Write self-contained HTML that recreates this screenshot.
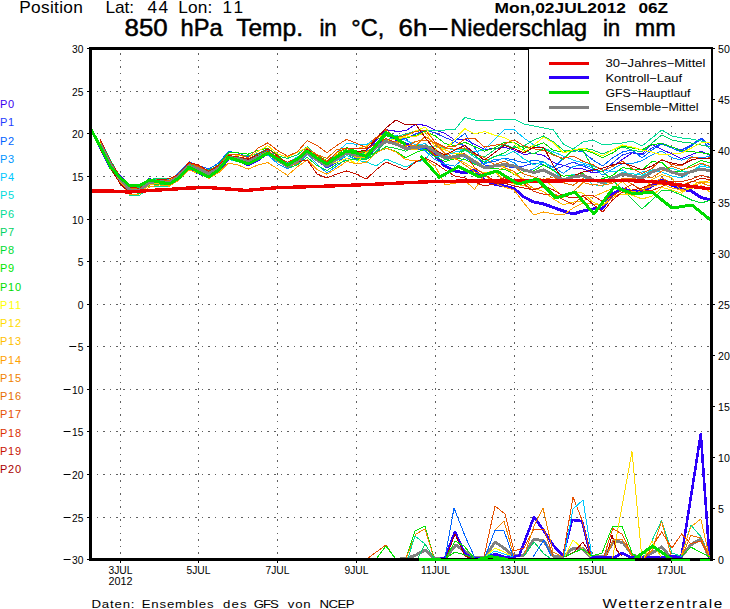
<!DOCTYPE html>
<html><head><meta charset="utf-8"><title>850 hPa Temp. Ensemble</title>
<style>
html,body{margin:0;padding:0;background:#fff;}
body{width:730px;height:609px;overflow:hidden;font-family:"Liberation Sans",sans-serif;}
svg text{font-family:"Liberation Sans",sans-serif;}
</style></head><body>
<svg width="730" height="609" viewBox="0 0 730 609" style="display:block">
<rect x="0" y="0" width="730" height="609" fill="#fff"/>
<g stroke="#606060" stroke-width="1" stroke-dasharray="1.5 5.065" shape-rendering="crispEdges">
<line x1="96.8" y1="91.5" x2="710" y2="91.5"/>
<line x1="96.8" y1="133.5" x2="710" y2="133.5"/>
<line x1="96.8" y1="176.5" x2="710" y2="176.5"/>
<line x1="96.8" y1="219.5" x2="710" y2="219.5"/>
<line x1="96.8" y1="261.5" x2="710" y2="261.5"/>
<line x1="96.8" y1="304.5" x2="710" y2="304.5"/>
<line x1="96.8" y1="346.5" x2="710" y2="346.5"/>
<line x1="96.8" y1="389.5" x2="710" y2="389.5"/>
<line x1="96.8" y1="431.5" x2="710" y2="431.5"/>
<line x1="96.8" y1="474.5" x2="710" y2="474.5"/>
<line x1="96.8" y1="517.5" x2="710" y2="517.5"/>
<line x1="120.5" y1="53.3" x2="120.5" y2="558" stroke-dasharray="1.5 5.065"/>
<line x1="198.5" y1="53.3" x2="198.5" y2="558" stroke-dasharray="1.5 5.065"/>
<line x1="277.5" y1="53.3" x2="277.5" y2="558" stroke-dasharray="1.5 5.065"/>
<line x1="356.5" y1="53.3" x2="356.5" y2="558" stroke-dasharray="1.5 5.065"/>
<line x1="435.5" y1="53.3" x2="435.5" y2="558" stroke-dasharray="1.5 5.065"/>
<line x1="514.5" y1="53.3" x2="514.5" y2="558" stroke-dasharray="1.5 5.065"/>
<line x1="592.5" y1="53.3" x2="592.5" y2="558" stroke-dasharray="1.5 5.065"/>
<line x1="671.5" y1="53.3" x2="671.5" y2="558" stroke-dasharray="1.5 5.065"/>
</g>
<g shape-rendering="crispEdges" stroke-linejoin="round" stroke-linecap="butt">
<polyline points="400.0,558.0 408.0,558.0 416.0,555.0 425.0,550.0 434.0,558.0 445.0,558.0 456.0,545.0 466.0,552.0 474.0,558.0 485.0,557.0 495.0,542.0 504.0,548.0 513.0,556.0 524.0,555.0 534.0,539.0 544.0,541.0 553.0,556.0 564.0,556.0 572.0,549.0 582.0,548.0 591.0,557.0 604.5,556.5 613.8,541.0 623.0,542.5 632.5,555.0 641.8,557.6 652.0,553.0 661.6,547.0 671.0,557.6 681.5,556.5 690.8,544.8 700.8,539.0 709.5,557.6" fill="none" stroke="#808080" stroke-width="3" />
<polyline points="90.5,128.0 100.3,147.5 110.2,167.5 120.0,177.0 129.9,187.0 139.8,186.5 149.6,179.5 159.4,183.0 169.3,185.0 179.1,177.5 189.0,168.0 198.8,173.0 208.7,176.5 218.5,171.0 228.4,158.5 238.2,160.0 248.1,165.0 257.9,160.0 267.8,152.5 277.6,160.0 287.5,166.0 297.4,158.5 307.2,152.0 317.0,159.0 326.9,163.5 336.8,158.0 346.6,152.0 356.4,152.5 366.3,157.5 376.1,146.0 386.0,134.0 395.8,139.0 405.7,144.0 415.6,147.5 425.4,147.0 435.2,156.0 445.1,166.0 454.9,171.0 464.8,173.0 474.6,170.0 484.5,180.0 494.3,184.0 504.2,186.0 514.0,188.5 523.9,197.0 533.8,202.0 543.6,204.0 553.5,207.5 563.3,211.0 573.1,214.0 583.0,211.0 592.8,209.0 602.7,208.0 612.5,194.0 622.4,189.0 632.2,191.5 642.1,192.0 651.9,186.0 661.8,180.0 671.6,185.0 681.5,189.0 691.4,191.0 701.2,197.5 711.0,200.0" fill="none" stroke="#2d00fa" stroke-width="3" />
<polyline points="440.0,558.5 445.0,558.0 455.0,532.0 465.0,554.0 472.0,558.0 485.0,558.0 495.0,554.0 504.0,557.0 519.0,556.0 534.0,517.0 544.0,531.0 553.0,545.0 563.0,556.0 572.0,520.0 582.0,521.0 591.0,557.0 614.0,557.6 622.0,553.0 631.0,557.6 681.5,556.5 700.8,434.0 709.5,557.6" fill="none" stroke="#2d00fa" stroke-width="2.6" />
<polyline points="100.3,143.7 110.2,164.4 120.0,179.6 129.9,189.8 139.8,189.6 149.6,182.9 159.4,181.6 169.3,183.6 179.1,177.0 189.0,166.6 198.8,170.3 208.7,174.6 218.5,169.5 228.4,158.8 238.2,158.8 248.1,161.7 257.9,157.2 267.8,154.4 277.6,159.8 287.5,164.3 297.4,159.1 307.2,149.4 317.0,154.5 326.9,162.3 336.8,155.8 346.6,150.3 356.4,151.6 366.3,151.1 376.1,140.5 386.0,129.7 395.8,131.2 405.7,130.9 415.6,124.3 425.4,125.3 435.2,130.1 445.1,133.5 454.9,140.1 464.8,139.1 474.6,144.5 484.5,149.3 494.3,148.7 504.2,147.3 514.0,149.9 523.9,154.5 533.8,153.3 543.6,155.3 553.5,162.6 563.3,165.3 573.1,168.1 583.0,168.9 592.8,173.0 602.7,171.3 612.5,166.3 622.4,159.5 632.2,152.9 642.1,153.8 651.9,144.5 661.8,149.4 671.6,153.8 681.5,158.7 691.4,154.7 701.2,151.3 711.0,156.1" fill="none" stroke="#3c00f0" stroke-width="1" />
<polyline points="100.3,140.9 110.2,161.4 120.0,178.4 129.9,190.2 139.8,189.5 149.6,182.7 159.4,181.2 169.3,182.0 179.1,176.1 189.0,166.4 198.8,169.3 208.7,173.4 218.5,169.9 228.4,158.9 238.2,159.9 248.1,160.0 257.9,156.3 267.8,153.2 277.6,161.7 287.5,164.7 297.4,159.1 307.2,151.3 317.0,160.8 326.9,168.0 336.8,162.6 346.6,155.6 356.4,159.1 366.3,159.4 376.1,153.4 386.0,140.0 395.8,142.0 405.7,138.0 415.6,134.0 425.4,130.0 435.2,133.0 445.1,137.5 454.9,141.5 464.8,146.0 474.6,155.0 484.5,165.0 494.3,166.0 504.2,166.0 514.0,168.0 523.9,166.0 533.8,163.0 543.6,165.0 553.5,170.0 563.3,166.0 573.1,162.0 583.0,166.0 592.8,170.0 602.7,172.0 612.5,163.0 622.4,155.0 632.2,152.0 642.1,155.0 651.9,148.0 661.8,143.0 671.6,147.0 681.5,150.0 691.4,145.0 701.2,138.0 711.0,146.0" fill="none" stroke="#1e3cff" stroke-width="1" />
<polyline points="100.3,143.5 110.2,163.4 120.0,178.4 129.9,188.1 139.8,187.5 149.6,180.0 159.4,178.8 169.3,180.7 179.1,172.6 189.0,161.8 198.8,165.5 208.7,169.1 218.5,163.1 228.4,151.5 238.2,153.0 248.1,156.8 257.9,153.4 267.8,150.5 277.6,158.4 287.5,164.2 297.4,158.8 307.2,148.4 317.0,156.7 326.9,161.6 336.8,158.6 346.6,153.0 356.4,156.9 366.3,150.3 376.1,142.8 386.0,134.2 395.8,135.4 405.7,138.1 415.6,150.0 425.4,148.0 435.2,146.0 445.1,149.5 454.9,141.0 464.8,133.5 474.6,148.0 484.5,163.0 494.3,161.5 504.2,158.0 514.0,160.0 523.9,163.0 533.8,160.0 543.6,162.0 553.5,168.0 563.3,158.0 573.1,150.0 583.0,152.0 592.8,160.0 602.7,166.0 612.5,158.0 622.4,152.0 632.2,150.0 642.1,158.0 651.9,150.0 661.8,144.0 671.6,148.0 681.5,152.0 691.4,146.0 701.2,139.0 711.0,150.0" fill="none" stroke="#0064ff" stroke-width="1" />
<polyline points="100.3,144.0 110.2,164.0 120.0,178.7 129.9,189.0 139.8,186.7 149.6,180.7 159.4,178.1 169.3,179.7 179.1,173.5 189.0,164.8 198.8,167.9 208.7,173.7 218.5,167.8 228.4,158.2 238.2,159.1 248.1,162.6 257.9,158.8 267.8,155.0 277.6,163.6 287.5,168.8 297.4,164.5 307.2,154.5 317.0,164.0 326.9,173.0 336.8,166.0 346.6,158.4 356.4,160.0 366.3,156.8 376.1,148.8 386.0,141.3 395.8,143.0 405.7,148.6 415.6,146.0 425.4,151.0 435.2,159.8 445.1,164.3 454.9,166.2 464.8,157.1 474.6,164.1 484.5,163.9 494.3,159.4 504.2,158.8 514.0,162.7 523.9,172.1 533.8,168.7 543.6,162.0 553.5,167.3 563.3,173.3 573.1,166.6 583.0,164.4 592.8,168.2 602.7,175.0 612.5,169.2 622.4,163.6 632.2,163.6 642.1,160.6 651.9,154.9 661.8,151.0 671.6,157.6 681.5,160.2 691.4,156.9 701.2,157.6 711.0,156.5" fill="none" stroke="#0096ff" stroke-width="1" />
<polyline points="100.3,145.9 110.2,164.5 120.0,181.5 129.9,193.0 139.8,191.7 149.6,183.3 159.4,182.6 169.3,183.9 179.1,177.3 189.0,166.9 198.8,168.2 208.7,174.4 218.5,166.9 228.4,155.8 238.2,157.4 248.1,160.8 257.9,155.0 267.8,150.9 277.6,157.2 287.5,163.3 297.4,156.8 307.2,153.4 317.0,157.6 326.9,164.6 336.8,152.5 346.6,143.4 356.4,144.2 366.3,145.0 376.1,137.6 386.0,133.2 395.8,135.6 405.7,140.5 415.6,144.5 425.4,143.8 435.2,156.3 445.1,156.0 454.9,152.0 464.8,150.0 474.6,152.0 484.5,149.5 494.3,140.0 504.2,129.5 514.0,129.5 523.9,138.0 533.8,145.0 543.6,148.0 553.5,152.0 563.3,156.0 573.1,160.0 583.0,163.0 592.8,166.0 602.7,170.0 612.5,172.0 622.4,170.0 632.2,176.0 642.1,172.0 651.9,170.0 661.8,172.0 671.6,176.0 681.5,178.0 691.4,172.0 701.2,166.0 711.0,168.0" fill="none" stroke="#00c8ff" stroke-width="1" />
<polyline points="100.3,144.8 110.2,165.1 120.0,181.5 129.9,192.0 139.8,192.2 149.6,184.2 159.4,182.1 169.3,184.3 179.1,178.2 189.0,166.9 198.8,170.6 208.7,174.0 218.5,168.5 228.4,159.4 238.2,161.7 248.1,162.9 257.9,159.7 267.8,153.7 277.6,161.9 287.5,166.2 297.4,160.1 307.2,151.6 317.0,158.5 326.9,166.3 336.8,160.7 346.6,155.5 356.4,160.0 366.3,162.0 376.1,166.0 386.0,159.0 395.8,163.0 405.7,167.0 415.6,162.0 425.4,160.0 435.2,144.4 445.1,148.2 454.9,149.8 464.8,149.5 474.6,157.5 484.5,161.6 494.3,156.1 504.2,155.7 514.0,151.2 523.9,159.0 533.8,164.7 543.6,161.7 553.5,170.0 563.3,179.9 573.1,174.0 583.0,176.5 592.8,184.5 602.7,186.1 612.5,178.4 622.4,172.3 632.2,173.8 642.1,175.2 651.9,170.1 661.8,168.1 671.6,168.3 681.5,171.5 691.4,172.1 701.2,164.2 711.0,166.8" fill="none" stroke="#00dcdc" stroke-width="1" />
<polyline points="100.3,148.6 110.2,168.0 120.0,183.1 129.9,195.2 139.8,195.3 149.6,186.9 159.4,187.0 169.3,185.9 179.1,178.9 189.0,169.2 198.8,171.0 208.7,174.5 218.5,170.3 228.4,158.4 238.2,160.0 248.1,163.8 257.9,156.3 267.8,153.9 277.6,159.0 287.5,166.0 297.4,160.9 307.2,151.2 317.0,158.7 326.9,164.2 336.8,158.0 346.6,150.0 356.4,156.3 366.3,152.0 376.1,146.0 386.0,140.0 395.8,137.0 405.7,134.0 415.6,131.0 425.4,130.0 435.2,130.0 445.1,130.0 454.9,129.5 464.8,117.5 474.6,120.0 484.5,120.0 494.3,120.0 504.2,119.5 514.0,119.0 523.9,124.0 533.8,126.0 543.6,128.0 553.5,130.0 563.3,144.0 573.1,149.0 583.0,142.0 592.8,140.0 602.7,145.0 612.5,144.0 622.4,143.0 632.2,141.0 642.1,146.0 651.9,138.0 661.8,130.0 671.6,136.0 681.5,138.0 691.4,139.0 701.2,141.0 711.0,143.0" fill="none" stroke="#00dc96" stroke-width="1" />
<polyline points="100.3,139.9 110.2,159.3 120.0,177.5 129.9,187.2 139.8,187.7 149.6,179.5 159.4,178.1 169.3,179.0 179.1,173.9 189.0,163.4 198.8,168.2 208.7,172.1 218.5,165.7 228.4,153.9 238.2,155.6 248.1,156.0 257.9,153.8 267.8,148.6 277.6,156.0 287.5,158.4 297.4,154.8 307.2,146.7 317.0,155.5 326.9,165.5 336.8,158.3 346.6,153.8 356.4,158.0 366.3,158.5 376.1,151.3 386.0,142.0 395.8,144.3 405.7,149.9 415.6,145.1 425.4,145.3 435.2,148.5 445.1,159.9 454.9,157.7 464.8,150.0 474.6,154.0 484.5,157.0 494.3,150.0 504.2,144.5 514.0,148.0 523.9,146.0 533.8,140.0 543.6,136.0 553.5,142.0 563.3,150.0 573.1,152.0 583.0,148.0 592.8,150.0 602.7,154.0 612.5,150.0 622.4,147.0 632.2,150.0 642.1,152.0 651.9,143.0 661.8,135.0 671.6,140.0 681.5,142.0 691.4,143.0 701.2,145.0 711.0,147.0" fill="none" stroke="#00d264" stroke-width="1" />
<polyline points="100.3,148.2 110.2,167.8 120.0,182.5 129.9,192.6 139.8,193.2 149.6,185.0 159.4,184.2 169.3,185.4 179.1,179.2 189.0,169.0 198.8,171.1 208.7,175.5 218.5,168.2 228.4,158.1 238.2,160.5 248.1,162.8 257.9,159.0 267.8,152.3 277.6,159.1 287.5,168.0 297.4,164.8 307.2,157.2 317.0,165.7 326.9,170.5 336.8,164.2 346.6,160.2 356.4,159.4 366.3,159.6 376.1,153.4 386.0,146.7 395.8,148.3 405.7,151.2 415.6,145.6 425.4,145.9 435.2,148.9 445.1,156.6 454.9,155.9 464.8,148.8 474.6,155.5 484.5,162.3 494.3,156.6 504.2,153.0 514.0,146.5 523.9,149.9 533.8,154.0 543.6,148.3 553.5,154.2 563.3,159.5 573.1,149.1 583.0,150.6 592.8,168.0 602.7,172.0 612.5,180.0 622.4,190.0 632.2,199.0 642.1,209.0 651.9,200.0 661.8,190.0 671.6,191.0 681.5,195.0 691.4,200.0 701.2,203.0 711.0,200.0" fill="none" stroke="#00dc32" stroke-width="1" />
<polyline points="100.3,140.8 110.2,160.8 120.0,178.3 129.9,188.5 139.8,188.7 149.6,181.6 159.4,179.1 169.3,180.9 179.1,175.0 189.0,166.5 198.8,167.2 208.7,170.2 218.5,165.0 228.4,152.5 238.2,152.9 248.1,154.2 257.9,150.4 267.8,148.3 277.6,154.9 287.5,164.6 297.4,158.1 307.2,150.3 317.0,155.7 326.9,160.5 336.8,156.9 346.6,148.8 356.4,150.9 366.3,156.2 376.1,152.5 386.0,148.5 395.8,151.2 405.7,157.7 415.6,152.6 425.4,149.2 435.2,156.5 445.1,161.6 454.9,158.6 464.8,159.3 474.6,164.2 484.5,167.6 494.3,168.8 504.2,169.2 514.0,174.2 523.9,171.9 533.8,170.9 543.6,164.9 553.5,170.6 563.3,176.1 573.1,175.5 583.0,173.0 592.8,182.1 602.7,178.6 612.5,175.5 622.4,167.6 632.2,169.3 642.1,169.8 651.9,161.6 661.8,162.5 671.6,171.8 681.5,171.0 691.4,165.3 701.2,160.4 711.0,163.1" fill="none" stroke="#00e600" stroke-width="1" />
<polyline points="100.3,148.2 110.2,168.8 120.0,181.5 129.9,192.1 139.8,191.6 149.6,183.0 159.4,182.1 169.3,183.5 179.1,176.6 189.0,166.8 198.8,169.4 208.7,173.1 218.5,166.7 228.4,156.1 238.2,156.9 248.1,159.1 257.9,155.4 267.8,150.8 277.6,158.2 287.5,167.1 297.4,160.0 307.2,152.9 317.0,157.0 326.9,162.1 336.8,154.7 346.6,147.7 356.4,150.9 366.3,152.6 376.1,145.0 386.0,135.9 395.8,136.6 405.7,138.0 415.6,135.5 425.4,131.1 435.2,135.9 445.1,143.6 454.9,145.7 464.8,142.3 474.6,146.6 484.5,151.2 494.3,148.2 504.2,142.3 514.0,142.3 523.9,148.2 533.8,146.3 543.6,142.9 553.5,150.4 563.3,152.1 573.1,149.9 583.0,149.9 592.8,152.7 602.7,157.7 612.5,153.0 622.4,146.2 632.2,148.0 642.1,149.8 651.9,144.4 661.8,143.7 671.6,146.7 681.5,150.9 691.4,151.7 701.2,152.6 711.0,154.5" fill="none" stroke="#00dc00" stroke-width="1" />
<polyline points="100.3,142.5 110.2,162.1 120.0,178.9 129.9,189.2 139.8,190.5 149.6,182.0 159.4,182.2 169.3,182.3 179.1,175.7 189.0,167.2 198.8,168.9 208.7,172.5 218.5,167.4 228.4,156.3 238.2,157.3 248.1,160.8 257.9,156.2 267.8,151.3 277.6,160.3 287.5,167.0 297.4,161.0 307.2,150.5 317.0,155.9 326.9,165.1 336.8,162.2 346.6,158.2 356.4,163.7 366.3,152.0 376.1,146.0 386.0,141.0 395.8,139.0 405.7,136.0 415.6,131.0 425.4,127.0 435.2,143.0 445.1,150.0 454.9,139.0 464.8,128.7 474.6,133.7 484.5,131.6 494.3,135.0 504.2,137.5 514.0,143.0 523.9,152.0 533.8,145.0 543.6,137.0 553.5,143.0 563.3,153.0 573.1,150.0 583.0,148.0 592.8,152.0 602.7,156.0 612.5,150.0 622.4,145.0 632.2,147.0 642.1,150.0 651.9,152.0 661.8,155.0 671.6,154.0 681.5,153.0 691.4,148.0 701.2,143.0 711.0,142.0" fill="none" stroke="#ffff00" stroke-width="1" />
<polyline points="100.3,141.5 110.2,162.4 120.0,177.4 129.9,188.2 139.8,188.5 149.6,180.9 159.4,180.6 169.3,180.1 179.1,174.0 189.0,163.0 198.8,166.8 208.7,171.5 218.5,167.7 228.4,154.6 238.2,155.2 248.1,157.5 257.9,151.4 267.8,145.7 277.6,154.0 287.5,157.2 297.4,152.5 307.2,147.4 317.0,156.2 326.9,160.9 336.8,153.3 346.6,148.4 356.4,148.7 366.3,146.1 376.1,139.0 386.0,132.4 395.8,139.3 405.7,137.1 415.6,136.4 425.4,132.4 435.2,146.7 445.1,150.0 454.9,153.9 464.8,153.8 474.6,160.3 484.5,166.3 494.3,166.5 504.2,166.5 514.0,174.2 523.9,179.2 533.8,181.4 543.6,178.8 553.5,187.4 563.3,197.5 573.1,192.1 583.0,193.1 592.8,202.1 602.7,205.7 612.5,195.4 622.4,194.5 632.2,195.1 642.1,199.0 651.9,196.2 661.8,187.5 671.6,190.0 681.5,193.3 691.4,186.1 701.2,181.0 711.0,183.3" fill="none" stroke="#ffdc00" stroke-width="1" />
<polyline points="100.3,145.8 110.2,168.5 120.0,181.1 129.9,192.5 139.8,192.9 149.6,184.7 159.4,183.1 169.3,183.4 179.1,174.6 189.0,165.1 198.8,169.0 208.7,173.1 218.5,166.9 228.4,159.0 238.2,159.6 248.1,162.8 257.9,159.1 267.8,153.8 277.6,161.7 287.5,165.2 297.4,161.7 307.2,153.9 317.0,158.5 326.9,163.9 336.8,157.7 346.6,151.1 356.4,157.7 366.3,157.3 376.1,145.5 386.0,142.2 395.8,142.0 405.7,147.9 415.6,149.9 425.4,146.0 435.2,149.1 445.1,156.2 454.9,158.8 464.8,162.8 474.6,168.9 484.5,173.0 494.3,170.9 504.2,180.8 514.0,184.1 523.9,185.6 533.8,188.3 543.6,191.6 553.5,199.1 563.3,204.8 573.1,202.1 583.0,200.8 592.8,197.0 602.7,192.6 612.5,188.5 622.4,181.5 632.2,191.5 642.1,193.0 651.9,179.7 661.8,174.7 671.6,177.6 681.5,191.3 691.4,188.3 701.2,185.8 711.0,192.9" fill="none" stroke="#ffbe00" stroke-width="1" />
<polyline points="100.3,148.8 110.2,167.3 120.0,182.5 129.9,194.2 139.8,194.0 149.6,186.9 159.4,184.9 169.3,186.1 179.1,180.0 189.0,170.0 198.8,173.6 208.7,178.4 218.5,172.8 228.4,163.2 238.2,165.0 248.1,169.2 257.9,165.0 267.8,162.5 277.6,168.9 287.5,175.4 297.4,166.9 307.2,159.9 317.0,169.6 326.9,174.2 336.8,168.1 346.6,161.5 356.4,163.8 366.3,162.4 376.1,152.9 386.0,148.0 395.8,151.9 405.7,159.6 415.6,160.8 425.4,158.9 435.2,166.2 445.1,184.6 454.9,183.3 464.8,180.6 474.6,189.3 484.5,175.0 494.3,183.0 504.2,187.0 514.0,190.0 523.9,203.0 533.8,215.0 543.6,212.0 553.5,214.0 563.3,215.0 573.1,208.0 583.0,203.0 592.8,204.0 602.7,206.0 612.5,198.0 622.4,192.0 632.2,195.0 642.1,190.0 651.9,186.0 661.8,184.0 671.6,188.0 681.5,190.0 691.4,186.0 701.2,183.0 711.0,180.0" fill="none" stroke="#ffa000" stroke-width="1" />
<polyline points="100.3,140.6 110.2,161.4 120.0,177.1 129.9,188.8 139.8,188.0 149.6,181.7 159.4,179.8 169.3,182.0 179.1,175.7 189.0,165.0 198.8,168.0 208.7,172.9 218.5,167.9 228.4,158.0 238.2,158.5 248.1,160.9 257.9,158.3 267.8,152.7 277.6,159.5 287.5,167.3 297.4,163.3 307.2,153.3 317.0,160.4 326.9,165.5 336.8,154.7 346.6,151.5 356.4,152.9 366.3,154.8 376.1,147.0 386.0,142.1 395.8,141.1 405.7,145.2 415.6,145.7 425.4,136.4 435.2,143.9 445.1,153.4 454.9,157.8 464.8,164.9 474.6,171.8 484.5,175.2 494.3,172.4 504.2,167.6 514.0,171.3 523.9,181.4 533.8,188.5 543.6,187.7 553.5,194.0 563.3,196.6 573.1,192.0 583.0,182.6 592.8,184.9 602.7,185.1 612.5,183.3 622.4,178.7 632.2,184.3 642.1,190.0 651.9,184.2 661.8,177.6 671.6,183.3 681.5,185.6 691.4,181.4 701.2,182.8 711.0,186.4" fill="none" stroke="#f08200" stroke-width="1" />
<polyline points="100.3,144.0 110.2,163.5 120.0,178.5 129.9,188.8 139.8,189.1 149.6,180.7 159.4,179.7 169.3,180.8 179.1,174.4 189.0,163.3 198.8,166.9 208.7,171.3 218.5,167.8 228.4,156.6 238.2,157.1 248.1,159.3 257.9,156.6 267.8,150.9 277.6,157.9 287.5,162.3 297.4,158.4 307.2,148.4 317.0,154.6 326.9,158.5 336.8,149.3 346.6,148.3 356.4,153.6 366.3,151.3 376.1,147.3 386.0,138.4 395.8,143.0 405.7,146.7 415.6,141.4 425.4,140.0 435.2,143.0 445.1,148.1 454.9,149.2 464.8,147.9 474.6,154.6 484.5,157.5 494.3,164.6 504.2,161.2 514.0,166.6 523.9,174.0 533.8,177.0 543.6,179.8 553.5,176.9 563.3,182.7 573.1,185.3 583.0,178.7 592.8,181.2 602.7,182.2 612.5,183.1 622.4,178.3 632.2,178.8 642.1,176.6 651.9,177.5 661.8,171.2 671.6,166.2 681.5,169.5 691.4,167.3 701.2,163.2 711.0,166.6" fill="none" stroke="#e66e00" stroke-width="1" />
<polyline points="100.3,141.0 110.2,161.3 120.0,178.8 129.9,190.3 139.8,189.1 149.6,182.2 159.4,179.8 169.3,181.4 179.1,173.5 189.0,163.2 198.8,166.3 208.7,170.8 218.5,165.4 228.4,154.6 238.2,154.5 248.1,157.7 257.9,147.9 267.8,142.9 277.6,150.5 287.5,156.2 297.4,151.9 307.2,140.5 317.0,145.5 326.9,152.6 336.8,145.5 346.6,139.3 356.4,143.2 366.3,147.7 376.1,137.5 386.0,129.5 395.8,137.8 405.7,135.2 415.6,131.4 425.4,130.2 435.2,142.2 445.1,147.1 454.9,146.6 464.8,139.0 474.6,138.3 484.5,147.1 494.3,145.3 504.2,144.0 514.0,139.9 523.9,146.0 533.8,148.7 543.6,150.5 553.5,155.3 563.3,158.3 573.1,156.0 583.0,161.3 592.8,164.6 602.7,170.5 612.5,166.5 622.4,161.3 632.2,168.6 642.1,173.4 651.9,168.6 661.8,159.5 671.6,164.5 681.5,165.9 691.4,157.1 701.2,158.5 711.0,157.8" fill="none" stroke="#e65000" stroke-width="1" />
<polyline points="100.3,145.1 110.2,165.4 120.0,179.0 129.9,190.4 139.8,191.1 149.6,183.5 159.4,181.5 169.3,182.2 179.1,175.2 189.0,165.9 198.8,169.0 208.7,173.3 218.5,167.8 228.4,156.7 238.2,157.0 248.1,160.9 257.9,156.5 267.8,151.6 277.6,157.0 287.5,162.3 297.4,158.1 307.2,150.5 317.0,155.6 326.9,161.7 336.8,152.1 346.6,148.0 356.4,148.1 366.3,148.6 376.1,143.9 386.0,138.4 395.8,143.1 405.7,149.2 415.6,147.9 425.4,145.9 435.2,155.6 445.1,156.0 454.9,156.1 464.8,153.6 474.6,167.6 484.5,174.7 494.3,180.5 504.2,177.8 514.0,179.8 523.9,183.9 533.8,191.4 543.6,194.2 553.5,194.3 563.3,199.6 573.1,204.6 583.0,195.1 592.8,195.5 602.7,201.5 612.5,195.8 622.4,189.9 632.2,184.1 642.1,191.3 651.9,190.4 661.8,186.6 671.6,181.4 681.5,181.7 691.4,179.2 701.2,175.0 711.0,178.4" fill="none" stroke="#dc3200" stroke-width="1" />
<polyline points="100.3,139.6 110.2,160.9 120.0,176.3 129.9,187.4 139.8,188.3 149.6,180.9 159.4,179.7 169.3,178.8 179.1,173.8 189.0,162.4 198.8,165.1 208.7,171.3 218.5,165.7 228.4,155.3 238.2,157.1 248.1,158.8 257.9,153.9 267.8,148.9 277.6,155.7 287.5,164.5 297.4,162.0 307.2,160.0 317.0,174.0 326.9,178.0 336.8,174.0 346.6,171.0 356.4,174.0 366.3,179.0 376.1,170.0 386.0,162.0 395.8,166.0 405.7,170.0 415.6,162.0 425.4,158.0 435.2,163.0 445.1,170.0 454.9,176.0 464.8,178.0 474.6,182.0 484.5,186.0 494.3,184.0 504.2,183.0 514.0,186.0 523.9,188.0 533.8,190.0 543.6,186.0 553.5,190.0 563.3,196.0 573.1,198.0 583.0,196.0 592.8,204.0 602.7,212.0 612.5,200.0 622.4,192.0 632.2,190.0 642.1,188.0 651.9,184.0 661.8,180.0 671.6,182.0 681.5,186.0 691.4,182.0 701.2,178.0 711.0,180.0" fill="none" stroke="#c81400" stroke-width="1" />
<polyline points="100.3,149.3 110.2,167.5 120.0,183.6 129.9,192.9 139.8,191.1 149.6,183.2 159.4,182.3 169.3,182.9 179.1,177.5 189.0,166.6 198.8,168.8 208.7,172.8 218.5,166.7 228.4,156.0 238.2,158.4 248.1,159.8 257.9,155.5 267.8,153.4 277.6,160.6 287.5,165.4 297.4,159.2 307.2,149.0 317.0,158.0 326.9,165.9 336.8,160.0 346.6,153.0 356.4,152.0 366.3,150.0 376.1,139.0 386.0,128.0 395.8,120.0 405.7,125.0 415.6,124.0 425.4,138.0 435.2,150.0 445.1,155.0 454.9,150.0 464.8,145.5 474.6,153.0 484.5,160.0 494.3,153.0 504.2,145.5 514.0,148.5 523.9,153.0 533.8,147.0 543.6,147.0 553.5,166.0 563.3,180.0 573.1,176.0 583.0,172.0 592.8,170.0 602.7,168.0 612.5,165.0 622.4,163.0 632.2,166.0 642.1,170.0 651.9,166.0 661.8,160.0 671.6,163.0 681.5,165.0 691.4,160.0 701.2,158.0 711.0,158.0" fill="none" stroke="#aa0000" stroke-width="1" />
<polyline points="368.0,558.0 386.0,545.0 395.0,558.0" fill="none" stroke="#e65000" stroke-width="1" />
<polyline points="377.0,558.0 386.0,546.0 395.0,558.0" fill="none" stroke="#00e600" stroke-width="1" />
<polyline points="406.0,558.0 415.0,531.0 425.0,526.0 434.0,558.0" fill="none" stroke="#00e600" stroke-width="1" />
<polyline points="406.0,558.0 416.0,534.0 425.0,529.0 434.0,558.0" fill="none" stroke="#f08200" stroke-width="1" />
<polyline points="408.0,558.0 415.0,536.0 425.0,544.0 434.0,558.0" fill="none" stroke="#00dc96" stroke-width="1" />
<polyline points="418.0,558.0 425.0,544.0 434.0,558.0" fill="none" stroke="#00d264" stroke-width="1" />
<polyline points="445.0,558.0 454.0,508.0 465.0,536.0 475.0,558.0" fill="none" stroke="#0064ff" stroke-width="1" />
<polyline points="446.0,558.0 455.0,534.0 465.0,556.0 470.0,558.0" fill="none" stroke="#aa0000" stroke-width="1" />
<polyline points="446.0,558.0 455.0,541.0 464.0,546.0 474.0,558.0" fill="none" stroke="#00e600" stroke-width="1" />
<polyline points="446.0,558.0 455.0,552.0 465.0,555.0 474.0,558.0" fill="none" stroke="#00dc00" stroke-width="1" />
<polyline points="484.0,557.0 495.0,506.0 505.0,514.0 514.0,551.0 524.0,548.0 534.0,529.0 544.0,529.0 553.0,556.0" fill="none" stroke="#e65000" stroke-width="1" />
<polyline points="485.0,557.0 495.0,530.0 504.0,521.0 514.0,556.0" fill="none" stroke="#f08200" stroke-width="1" />
<polyline points="485.0,557.0 495.0,530.0 504.0,531.0 513.0,556.0" fill="none" stroke="#0064ff" stroke-width="1" />
<polyline points="485.0,557.0 495.0,548.0 504.0,552.0 513.0,557.0" fill="none" stroke="#ffff00" stroke-width="1" />
<polyline points="485.0,557.0 495.0,551.0 504.0,554.0 513.0,557.0" fill="none" stroke="#00c8ff" stroke-width="1" />
<polyline points="524.0,556.0 534.0,526.0 543.0,508.0 553.0,552.0 563.0,557.0" fill="none" stroke="#f08200" stroke-width="1" />
<polyline points="524.0,556.0 534.0,542.0 544.0,554.0 550.0,558.0" fill="none" stroke="#00d264" stroke-width="1" />
<polyline points="533.0,557.0 544.0,540.0 551.0,556.0" fill="none" stroke="#0064ff" stroke-width="1" />
<polyline points="563.0,556.0 573.0,497.0 582.0,520.0 591.0,556.0" fill="none" stroke="#e65000" stroke-width="1" />
<polyline points="564.0,556.0 573.0,509.0 583.0,500.0 592.0,557.0" fill="none" stroke="#00c8ff" stroke-width="1" />
<polyline points="565.0,556.0 573.0,540.0 582.0,548.0 591.0,557.0" fill="none" stroke="#ffff00" stroke-width="1" />
<polyline points="565.0,557.0 574.0,552.0 583.0,542.0 591.0,556.0" fill="none" stroke="#aa0000" stroke-width="1" />
<polyline points="564.0,557.0 582.0,549.0 592.0,556.0 602.0,553.0 612.7,526.0 622.0,526.0 632.5,554.0 640.0,558.0" fill="none" stroke="#00e600" stroke-width="1" />
<polyline points="612.7,557.6 632.0,451.5 641.8,557.6" fill="none" stroke="#ffdc00" stroke-width="1" />
<polyline points="604.0,556.0 612.7,528.5 622.0,534.0 632.5,556.0" fill="none" stroke="#e65000" stroke-width="1" />
<polyline points="607.0,555.0 612.0,535.5 617.0,550.6 622.0,556.0" fill="none" stroke="#aa0000" stroke-width="1" />
<polyline points="606.0,556.0 614.0,539.0 622.0,539.0 632.0,556.0" fill="none" stroke="#f08200" stroke-width="1" />
<polyline points="644.0,557.6 661.6,520.3 672.0,553.0 681.5,556.5 690.8,525.0 700.8,536.6 709.5,557.6" fill="none" stroke="#00dc96" stroke-width="1" />
<polyline points="644.0,558.0 652.0,550.6 661.6,521.5 671.0,555.0" fill="none" stroke="#f08200" stroke-width="1" />
<polyline points="645.0,558.0 661.6,532.0 672.0,548.0 681.5,534.0 690.8,543.6 700.8,541.0 709.5,557.0" fill="none" stroke="#e65000" stroke-width="1" />
<polyline points="644.0,558.0 652.0,541.0 661.0,557.0" fill="none" stroke="#ffdc00" stroke-width="1" />
<polyline points="681.5,555.0 690.8,527.0 700.8,519.0 709.5,557.6" fill="none" stroke="#ffa000" stroke-width="1" />
<polyline points="682.0,556.0 690.8,535.5 700.8,537.8 709.5,557.0" fill="none" stroke="#e66e00" stroke-width="1" />
<polyline points="682.0,556.0 690.8,547.0 700.0,552.0 709.5,557.0" fill="none" stroke="#00e600" stroke-width="1" />
<polyline points="100.3,144.0 110.2,164.0 120.0,179.5 129.9,190.0 139.8,190.0 149.6,182.5 159.4,181.5 169.3,182.5 179.1,176.0 189.0,166.0 198.8,169.0 208.7,173.5 218.5,168.0 228.4,157.5 238.2,158.5 248.1,161.5 257.9,157.0 267.8,153.0 277.6,160.0 287.5,166.5 297.4,161.0 307.2,153.0 317.0,160.0 326.9,166.0 336.8,159.0 346.6,153.0 356.4,155.0 366.3,155.0 376.1,147.5 386.0,141.5 395.8,144.0 405.7,148.5 415.6,147.5 425.4,146.0 435.2,152.0 445.1,158.0 454.9,156.5 464.8,155.5 474.6,161.5 484.5,168.0 494.3,166.0 504.2,164.5 514.0,166.0 523.9,170.0 533.8,172.5 543.6,170.0 553.5,175.0 563.3,180.0 573.1,177.0 583.0,175.5 592.8,179.5 602.7,183.0 612.5,178.0 622.4,174.0 632.2,176.0 642.1,178.0 651.9,172.0 661.8,168.0 671.6,172.0 681.5,175.0 691.4,171.5 701.2,169.0 711.0,171.0" fill="none" stroke="#808080" stroke-width="3" />
<polyline points="90.5,191.0 110.0,191.0 129.0,192.0 150.0,190.5 168.0,189.5 189.0,188.0 208.0,187.5 228.0,189.0 246.0,190.5 262.0,189.0 277.0,187.7 300.0,187.0 330.0,186.0 356.0,185.0 380.0,184.0 410.0,182.5 436.0,181.5 470.0,181.0 506.0,181.0 550.0,181.0 584.0,180.5 620.0,180.5 642.0,181.0 660.0,182.5 680.0,185.0 700.0,187.5 711.5,189.0" fill="none" stroke="#eb0000" stroke-width="3.4" />
<polyline points="90.5,128.5 100.3,146.5 110.2,166.5 120.0,177.5 129.9,186.0 139.8,185.5 149.6,180.0 159.4,182.0 169.3,184.0 179.1,178.0 189.0,167.0 198.8,172.0 208.7,177.0 218.5,170.0 228.4,157.5 238.2,160.5 248.1,164.0 257.9,159.0 267.8,153.0 277.6,159.0 287.5,165.0 297.4,159.0 307.2,151.0 317.0,158.0 326.9,164.0 336.8,157.0 346.6,151.0 356.4,153.0 366.3,156.5 376.1,145.0 386.0,132.5 395.8,138.0 405.7,144.5" fill="none" stroke="#00dc00" stroke-width="3" />
<polyline points="420.7,156.0 439.3,177.3 458.6,166.6 478.6,176.6 497.0,171.0 518.0,184.0 537.0,179.0 556.0,198.0 575.0,192.0 594.0,214.0 614.0,187.0 634.0,194.0 652.0,192.0 672.0,208.0 692.0,205.0 710.5,220.0" fill="none" stroke="#00dc00" stroke-width="3" />
<polyline points="633.7,559.5 652.5,546.0 672.0,559.5" fill="none" stroke="#00dc00" stroke-width="3" />
</g>
<g shape-rendering="crispEdges">
<rect x="90.5" y="48.5" width="621" height="511" fill="none" stroke="#000" stroke-width="3"/>
<rect x="528.5" y="48.5" width="183" height="73" fill="#fff" stroke="#000" stroke-width="1"/>
<line x1="549" y1="63.5" x2="588.5" y2="63.5" stroke="#eb0000" stroke-width="3"/>
<line x1="549" y1="77.5" x2="588.5" y2="77.5" stroke="#2d00fa" stroke-width="3"/>
<line x1="549" y1="92.5" x2="588.5" y2="92.5" stroke="#00dc00" stroke-width="3"/>
<line x1="549" y1="107.5" x2="588.5" y2="107.5" stroke="#808080" stroke-width="3"/>
<rect x="419" y="558" width="22" height="3" fill="#00dc00"/>
<rect x="441" y="559" width="194" height="2" fill="#00dc00"/>
<rect x="671" y="559" width="19" height="2" fill="#00dc00"/>
<rect x="700" y="559" width="10" height="2" fill="#00dc00"/>
<polyline points="478,559.5 490,556.5 508,559.5" fill="none" stroke="#00dc00" stroke-width="3"/>
<line x1="87" y1="48.5" x2="89" y2="48.5" stroke="#000"/>
<line x1="87" y1="91.5" x2="89" y2="91.5" stroke="#000"/>
<line x1="87" y1="133.5" x2="89" y2="133.5" stroke="#000"/>
<line x1="87" y1="176.5" x2="89" y2="176.5" stroke="#000"/>
<line x1="87" y1="219.5" x2="89" y2="219.5" stroke="#000"/>
<line x1="87" y1="261.5" x2="89" y2="261.5" stroke="#000"/>
<line x1="87" y1="304.5" x2="89" y2="304.5" stroke="#000"/>
<line x1="87" y1="346.5" x2="89" y2="346.5" stroke="#000"/>
<line x1="87" y1="389.5" x2="89" y2="389.5" stroke="#000"/>
<line x1="87" y1="431.5" x2="89" y2="431.5" stroke="#000"/>
<line x1="87" y1="474.5" x2="89" y2="474.5" stroke="#000"/>
<line x1="87" y1="517.5" x2="89" y2="517.5" stroke="#000"/>
<line x1="87" y1="559.5" x2="89" y2="559.5" stroke="#000"/>
<line x1="713" y1="48.5" x2="715" y2="48.5" stroke="#000"/>
<line x1="713" y1="99.5" x2="715" y2="99.5" stroke="#000"/>
<line x1="713" y1="150.5" x2="715" y2="150.5" stroke="#000"/>
<line x1="713" y1="202.5" x2="715" y2="202.5" stroke="#000"/>
<line x1="713" y1="253.5" x2="715" y2="253.5" stroke="#000"/>
<line x1="713" y1="304.5" x2="715" y2="304.5" stroke="#000"/>
<line x1="713" y1="355.5" x2="715" y2="355.5" stroke="#000"/>
<line x1="713" y1="406.5" x2="715" y2="406.5" stroke="#000"/>
<line x1="713" y1="457.5" x2="715" y2="457.5" stroke="#000"/>
<line x1="713" y1="508.5" x2="715" y2="508.5" stroke="#000"/>
<line x1="713" y1="559.5" x2="715" y2="559.5" stroke="#000"/>
<line x1="120.5" y1="561" x2="120.5" y2="563" stroke="#000"/>
<line x1="198.5" y1="561" x2="198.5" y2="563" stroke="#000"/>
<line x1="277.5" y1="561" x2="277.5" y2="563" stroke="#000"/>
<line x1="356.5" y1="561" x2="356.5" y2="563" stroke="#000"/>
<line x1="435.5" y1="561" x2="435.5" y2="563" stroke="#000"/>
<line x1="514.5" y1="561" x2="514.5" y2="563" stroke="#000"/>
<line x1="592.5" y1="561" x2="592.5" y2="563" stroke="#000"/>
<line x1="671.5" y1="561" x2="671.5" y2="563" stroke="#000"/>
</g>
<g font-family="'Liberation Sans', sans-serif" fill="#000">
<text x="83.5" y="52.7" font-size="11.5" text-anchor="end" textLength="11.4" lengthAdjust="spacingAndGlyphs">30</text>
<text x="83.5" y="95.7" font-size="11.5" text-anchor="end" textLength="11.4" lengthAdjust="spacingAndGlyphs">25</text>
<text x="83.5" y="137.7" font-size="11.5" text-anchor="end" textLength="11.4" lengthAdjust="spacingAndGlyphs">20</text>
<text x="83.5" y="180.7" font-size="11.5" text-anchor="end" textLength="11.4" lengthAdjust="spacingAndGlyphs">15</text>
<text x="83.5" y="223.7" font-size="11.5" text-anchor="end" textLength="11.4" lengthAdjust="spacingAndGlyphs">10</text>
<text x="83.5" y="265.7" font-size="11.5" text-anchor="end" textLength="5.7" lengthAdjust="spacingAndGlyphs">5</text>
<text x="83.5" y="308.7" font-size="11.5" text-anchor="end" textLength="5.7" lengthAdjust="spacingAndGlyphs">0</text>
<text x="83.5" y="350.7" font-size="11.5" text-anchor="end" textLength="5.7" lengthAdjust="spacingAndGlyphs">5</text>
<rect x="69.3" y="346" width="7" height="1" />
<text x="83.5" y="393.7" font-size="11.5" text-anchor="end" textLength="11.4" lengthAdjust="spacingAndGlyphs">10</text>
<rect x="63.6" y="389" width="7" height="1" />
<text x="83.5" y="435.7" font-size="11.5" text-anchor="end" textLength="11.4" lengthAdjust="spacingAndGlyphs">15</text>
<rect x="63.6" y="431" width="7" height="1" />
<text x="83.5" y="478.7" font-size="11.5" text-anchor="end" textLength="11.4" lengthAdjust="spacingAndGlyphs">20</text>
<rect x="63.6" y="474" width="7" height="1" />
<text x="83.5" y="521.7" font-size="11.5" text-anchor="end" textLength="11.4" lengthAdjust="spacingAndGlyphs">25</text>
<rect x="63.6" y="517" width="7" height="1" />
<text x="83.5" y="563.7" font-size="11.5" text-anchor="end" textLength="11.4" lengthAdjust="spacingAndGlyphs">30</text>
<rect x="63.6" y="559" width="7" height="1" />
<text x="718" y="52.7" font-size="11.5" textLength="11.8" lengthAdjust="spacingAndGlyphs">50</text>
<text x="718" y="103.7" font-size="11.5" textLength="11.8" lengthAdjust="spacingAndGlyphs">45</text>
<text x="718" y="154.7" font-size="11.5" textLength="11.8" lengthAdjust="spacingAndGlyphs">40</text>
<text x="718" y="206.7" font-size="11.5" textLength="11.8" lengthAdjust="spacingAndGlyphs">35</text>
<text x="718" y="257.7" font-size="11.5" textLength="11.8" lengthAdjust="spacingAndGlyphs">30</text>
<text x="718" y="308.7" font-size="11.5" textLength="11.8" lengthAdjust="spacingAndGlyphs">25</text>
<text x="718" y="359.7" font-size="11.5" textLength="11.8" lengthAdjust="spacingAndGlyphs">20</text>
<text x="718" y="410.7" font-size="11.5" textLength="11.8" lengthAdjust="spacingAndGlyphs">15</text>
<text x="718" y="461.7" font-size="11.5" textLength="11.8" lengthAdjust="spacingAndGlyphs">10</text>
<text x="718" y="512.7" font-size="11.5" textLength="5.9" lengthAdjust="spacingAndGlyphs">5</text>
<text x="718" y="563.7" font-size="11.5" textLength="5.9" lengthAdjust="spacingAndGlyphs">0</text>
<text x="120.5" y="573.5" font-size="11.5" text-anchor="middle" textLength="24" lengthAdjust="spacingAndGlyphs">3JUL</text>
<text x="198.5" y="573.5" font-size="11.5" text-anchor="middle" textLength="24" lengthAdjust="spacingAndGlyphs">5JUL</text>
<text x="277.5" y="573.5" font-size="11.5" text-anchor="middle" textLength="24" lengthAdjust="spacingAndGlyphs">7JUL</text>
<text x="356.5" y="573.5" font-size="11.5" text-anchor="middle" textLength="24" lengthAdjust="spacingAndGlyphs">9JUL</text>
<text x="435.5" y="573.5" font-size="11.5" text-anchor="middle" textLength="29" lengthAdjust="spacingAndGlyphs">11JUL</text>
<text x="514.5" y="573.5" font-size="11.5" text-anchor="middle" textLength="29" lengthAdjust="spacingAndGlyphs">13JUL</text>
<text x="592.5" y="573.5" font-size="11.5" text-anchor="middle" textLength="29" lengthAdjust="spacingAndGlyphs">15JUL</text>
<text x="671.5" y="573.5" font-size="11.5" text-anchor="middle" textLength="29" lengthAdjust="spacingAndGlyphs">17JUL</text>
<text x="120.5" y="584.8" font-size="11.5" text-anchor="middle" textLength="24" lengthAdjust="spacingAndGlyphs">2012</text>
<text x="0" y="108.0" font-size="11" fill="#3c00f0" textLength="14" lengthAdjust="spacing">P0</text>
<text x="0" y="126.2" font-size="11" fill="#1e3cff" textLength="14" lengthAdjust="spacing">P1</text>
<text x="0" y="144.5" font-size="11" fill="#0064ff" textLength="14" lengthAdjust="spacing">P2</text>
<text x="0" y="162.8" font-size="11" fill="#0096ff" textLength="14" lengthAdjust="spacing">P3</text>
<text x="0" y="181.0" font-size="11" fill="#00c8ff" textLength="14" lengthAdjust="spacing">P4</text>
<text x="0" y="199.2" font-size="11" fill="#00dcdc" textLength="14" lengthAdjust="spacing">P5</text>
<text x="0" y="217.5" font-size="11" fill="#00dc96" textLength="14" lengthAdjust="spacing">P6</text>
<text x="0" y="235.8" font-size="11" fill="#00d264" textLength="14" lengthAdjust="spacing">P7</text>
<text x="0" y="254.0" font-size="11" fill="#00dc32" textLength="14" lengthAdjust="spacing">P8</text>
<text x="0" y="272.2" font-size="11" fill="#00e600" textLength="14" lengthAdjust="spacing">P9</text>
<text x="0" y="290.5" font-size="11" fill="#00dc00" textLength="21" lengthAdjust="spacing">P10</text>
<text x="0" y="308.8" font-size="11" fill="#ffff00" textLength="21" lengthAdjust="spacing">P11</text>
<text x="0" y="327.0" font-size="11" fill="#ffdc00" textLength="21" lengthAdjust="spacing">P12</text>
<text x="0" y="345.2" font-size="11" fill="#ffbe00" textLength="21" lengthAdjust="spacing">P13</text>
<text x="0" y="363.5" font-size="11" fill="#ffa000" textLength="21" lengthAdjust="spacing">P14</text>
<text x="0" y="381.8" font-size="11" fill="#f08200" textLength="21" lengthAdjust="spacing">P15</text>
<text x="0" y="400.0" font-size="11" fill="#e66e00" textLength="21" lengthAdjust="spacing">P16</text>
<text x="0" y="418.2" font-size="11" fill="#e65000" textLength="21" lengthAdjust="spacing">P17</text>
<text x="0" y="436.5" font-size="11" fill="#dc3200" textLength="21" lengthAdjust="spacing">P18</text>
<text x="0" y="454.8" font-size="11" fill="#c81400" textLength="21" lengthAdjust="spacing">P19</text>
<text x="0" y="473.0" font-size="11" fill="#aa0000" textLength="21" lengthAdjust="spacing">P20</text>
<text transform="translate(19.2,12.7) scale(1.080,1)" font-size="16" textLength="58.98" lengthAdjust="spacing" >Position</text>
<text transform="translate(105.5,12.7) scale(1.080,1)" font-size="16" textLength="26.39" lengthAdjust="spacing" >Lat:</text>
<text transform="translate(147.5,12.7) scale(1.080,1)" font-size="16" textLength="18.98" lengthAdjust="spacing" >44</text>
<text transform="translate(178.3,12.7) scale(1.080,1)" font-size="16" textLength="31.39" lengthAdjust="spacing" >Lon:</text>
<text transform="translate(222.5,12.7) scale(1.080,1)" font-size="16" textLength="18.98" lengthAdjust="spacing" >11</text>
<text x="494.6" y="12.6" font-size="14" textLength="131.4" lengthAdjust="spacingAndGlyphs" font-weight="bold">Mon,02JUL2012</text>
<text x="638.4" y="12.6" font-size="14" textLength="29.6" lengthAdjust="spacingAndGlyphs" font-weight="bold">06Z</text>
<text x="124.5" y="36.0" font-size="24" textLength="43.2" lengthAdjust="spacingAndGlyphs" stroke="#000" stroke-width="0.5">850</text>
<text x="180.6" y="36.0" font-size="24" textLength="42.1" lengthAdjust="spacingAndGlyphs" stroke="#000" stroke-width="0.5">hPa</text>
<text x="236.2" y="36.0" font-size="24" textLength="66.8" lengthAdjust="spacingAndGlyphs" stroke="#000" stroke-width="0.5">Temp.</text>
<text x="319.4" y="36.0" font-size="24" textLength="17.4" lengthAdjust="spacingAndGlyphs" stroke="#000" stroke-width="0.5">in</text>
<text x="351.3" y="36.0" font-size="24" textLength="32.9" lengthAdjust="spacingAndGlyphs" stroke="#000" stroke-width="0.5">°C,</text>
<text x="398.6" y="36.0" font-size="24" textLength="28.7" lengthAdjust="spacingAndGlyphs" stroke="#000" stroke-width="0.5">6h</text>
<rect x="429" y="28" width="18.5" height="2" fill="#000"/>
<text x="450.3" y="36.0" font-size="24" textLength="136.7" lengthAdjust="spacingAndGlyphs" stroke="#000" stroke-width="0.5">Niederschlag</text>
<text x="602.9" y="36.0" font-size="24" textLength="17.4" lengthAdjust="spacingAndGlyphs" stroke="#000" stroke-width="0.5">in</text>
<text x="634.7" y="36.0" font-size="24" textLength="41.1" lengthAdjust="spacingAndGlyphs" stroke="#000" stroke-width="0.5">mm</text>
<text x="605.5" y="67.0" font-size="11" textLength="100.0" lengthAdjust="spacingAndGlyphs" >30−Jahres−Mittel</text>
<text x="605.5" y="81.5" font-size="11" textLength="76.5" lengthAdjust="spacingAndGlyphs" >Kontroll−Lauf</text>
<text x="605.5" y="96.6" font-size="11" textLength="85.0" lengthAdjust="spacingAndGlyphs" >GFS−Hauptlauf</text>
<text x="605.5" y="111.0" font-size="11" textLength="93.0" lengthAdjust="spacingAndGlyphs" >Ensemble−Mittel</text>
<text transform="translate(91.5,608.2) scale(1.150,1)" font-size="11.5" textLength="37.39" lengthAdjust="spacing" >Daten:</text>
<text transform="translate(141.7,608.2) scale(1.150,1)" font-size="11.5" textLength="62.52" lengthAdjust="spacing" >Ensembles</text>
<text transform="translate(223.0,608.2) scale(1.150,1)" font-size="11.5" textLength="20.43" lengthAdjust="spacing" >des</text>
<text transform="translate(253.8,608.2) scale(1.150,1)" font-size="11.5" textLength="21.74" lengthAdjust="spacing" >GFS</text>
<text transform="translate(287.7,608.2) scale(1.150,1)" font-size="11.5" textLength="20.00" lengthAdjust="spacing" >von</text>
<text transform="translate(319.5,608.2) scale(1.150,1)" font-size="11.5" textLength="30.43" lengthAdjust="spacing" >NCEP</text>
<text transform="translate(602.4,608.4) scale(1.180,1)" font-size="13" textLength="101.69" lengthAdjust="spacing" >Wetterzentrale</text>
</g>
</svg>
</body></html>
